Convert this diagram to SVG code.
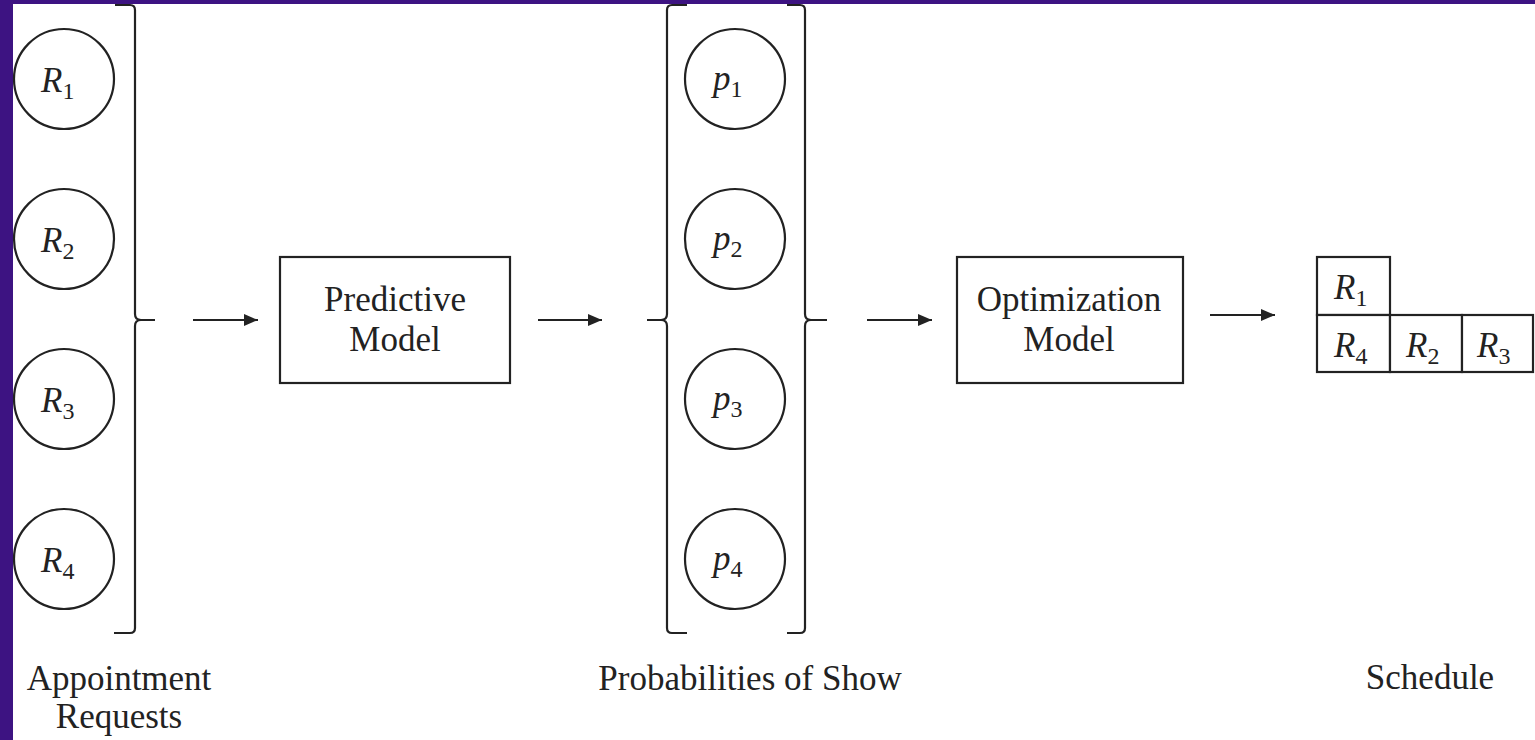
<svg xmlns="http://www.w3.org/2000/svg" width="1535" height="740" viewBox="0 0 1535 740">
<defs>
<style>
.frame{fill:#3d1382}
.bg{fill:#ffffff}
.ln{fill:none;stroke:#222;stroke-width:2.2}
.node{fill:#fff;stroke:#222;stroke-width:2.2}
.lbl{font-family:'Liberation Serif','Times New Roman','DejaVu Serif',serif;font-size:35px;fill:#222}
.math{font-family:'Liberation Serif','Times New Roman','DejaVu Serif',serif;font-style:italic;font-size:35px;fill:#222}
.sub{font-style:normal;font-size:24px}
</style>
<marker id="ah" viewBox="0 0 14 12" refX="14" refY="6" markerWidth="14" markerHeight="12" markerUnits="userSpaceOnUse" orient="auto">
<path d="M0,0 L14,6 L0,12 Z" fill="#222"/>
</marker>
</defs>
<rect class="frame" x="0" y="0" width="1535" height="740"/>
<rect class="bg" x="13" y="4" width="1522" height="736"/>

<g id="connectors">
<line class="ln" x1="193" y1="320" x2="258" y2="320" marker-end="url(#ah)"/>
<line class="ln" x1="538" y1="320" x2="602" y2="320" marker-end="url(#ah)"/>
<line class="ln" x1="867" y1="320" x2="932" y2="320" marker-end="url(#ah)"/>
<line class="ln" x1="1210" y1="315" x2="1275" y2="315" marker-end="url(#ah)"/>
</g>

<g id="bracket-requests">
<path class="ln" d="M115,5 L130,5 Q135,5 135,10 L135,314 Q135,320 141,320 L155,320 M141,320 Q135,320 135,326 L135,628 Q135,633 130,633 L114,633"/>
</g>
<g id="bracket-prob-left">
<path class="ln" d="M687,5 L672,5 Q667,5 667,10 L667,314 Q667,320 661,320 L647,320 M661,320 Q667,320 667,326 L667,628 Q667,633 672,633 L687,633"/>
</g>
<g id="bracket-prob-right">
<path class="ln" d="M787,5 L800,5 Q805,5 805,10 L805,314 Q805,320 811,320 L827,320 M811,320 Q805,320 805,326 L805,628 Q805,633 800,633 L787,633"/>
</g>

<g id="R1"><circle class="node" cx="64" cy="79" r="50"/><text class="math" x="41" y="92">R<tspan class="sub" dy="7">1</tspan></text></g>
<g id="R2"><circle class="node" cx="64" cy="239" r="50"/><text class="math" x="41" y="252">R<tspan class="sub" dy="7">2</tspan></text></g>
<g id="R3"><circle class="node" cx="64" cy="399" r="50"/><text class="math" x="41" y="412">R<tspan class="sub" dy="7">3</tspan></text></g>
<g id="R4"><circle class="node" cx="64" cy="559" r="50"/><text class="math" x="41" y="572">R<tspan class="sub" dy="7">4</tspan></text></g>

<g id="p1"><circle class="node" cx="735" cy="79" r="50"/><text class="math" x="713" y="90">p<tspan class="sub" dy="7">1</tspan></text></g>
<g id="p2"><circle class="node" cx="735" cy="239" r="50"/><text class="math" x="713" y="250">p<tspan class="sub" dy="7">2</tspan></text></g>
<g id="p3"><circle class="node" cx="735" cy="399" r="50"/><text class="math" x="713" y="410">p<tspan class="sub" dy="7">3</tspan></text></g>
<g id="p4"><circle class="node" cx="735" cy="559" r="50"/><text class="math" x="713" y="570">p<tspan class="sub" dy="7">4</tspan></text></g>

<g id="predictive-model">
<rect class="node" x="280" y="257" width="230" height="126"/>
<text class="lbl" x="395" y="311" text-anchor="middle">Predictive</text>
<text class="lbl" x="395" y="351" text-anchor="middle">Model</text>
</g>

<g id="optimization-model">
<rect class="node" x="957" y="257" width="226" height="126"/>
<text class="lbl" x="1069" y="311" text-anchor="middle">Optimization</text>
<text class="lbl" x="1069" y="351" text-anchor="middle">Model</text>
</g>

<g id="schedule">
<rect class="node" x="1317" y="257" width="73" height="58"/>
<rect class="node" x="1317" y="315" width="73" height="57"/>
<rect class="node" x="1390" y="315" width="72" height="57"/>
<rect class="node" x="1462" y="315" width="71" height="57"/>
<text class="math" x="1334" y="299">R<tspan class="sub" dy="7">1</tspan></text>
<text class="math" x="1334" y="357">R<tspan class="sub" dy="7">4</tspan></text>
<text class="math" x="1406" y="357">R<tspan class="sub" dy="7">2</tspan></text>
<text class="math" x="1477" y="357">R<tspan class="sub" dy="7">3</tspan></text>
</g>

<g id="labels">
<text class="lbl" x="119" y="690" text-anchor="middle">Appointment</text>
<text class="lbl" x="119" y="728" text-anchor="middle">Requests</text>
<text class="lbl" x="750" y="690" text-anchor="middle">Probabilities of Show</text>
<text class="lbl" x="1430" y="689" text-anchor="middle">Schedule</text>
</g>
</svg>
